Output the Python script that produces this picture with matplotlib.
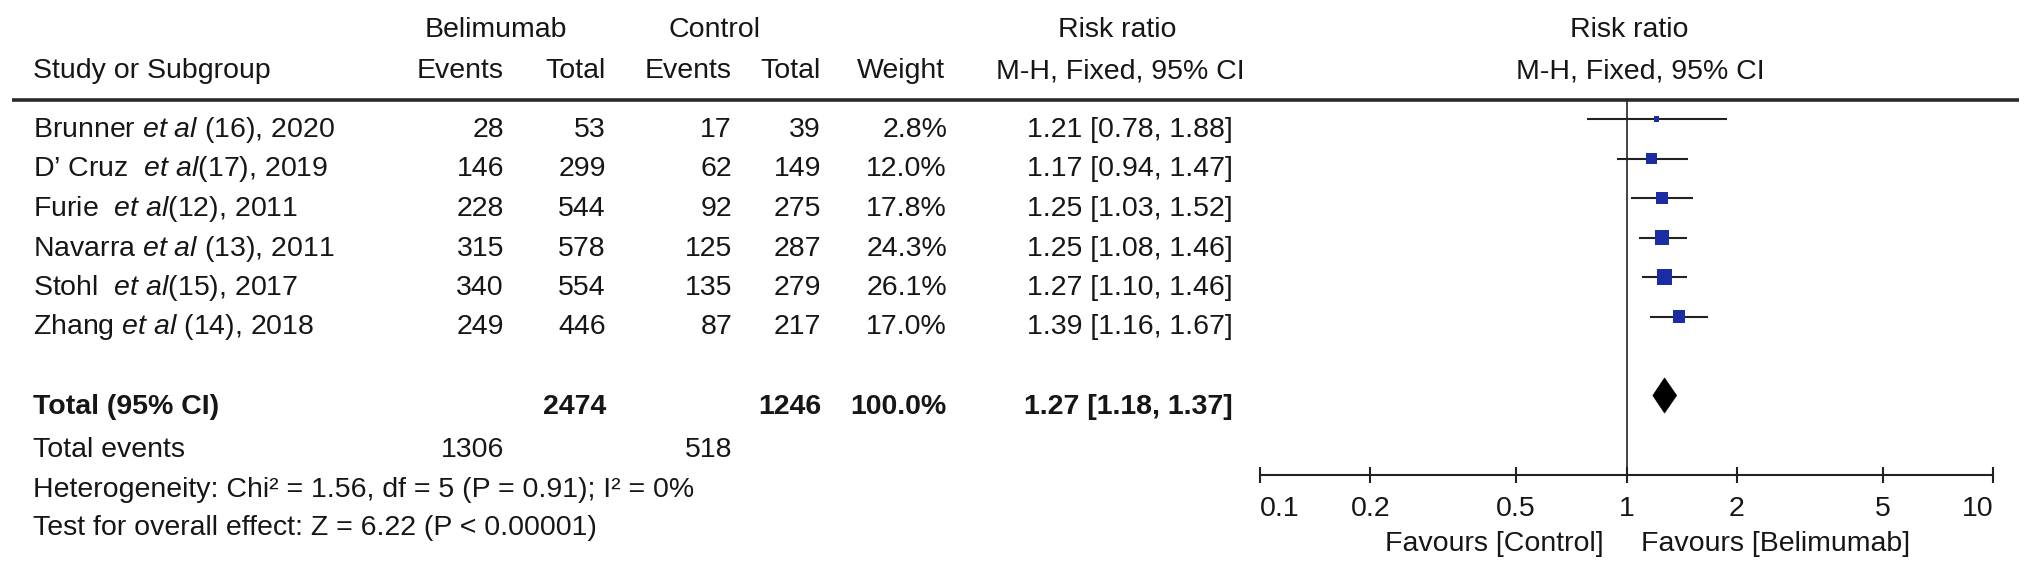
import matplotlib
matplotlib.use("Agg")
import matplotlib.pyplot as plt
import numpy as np
from matplotlib.transforms import blended_transform_factory
from matplotlib.patches import Polygon

plt.rcParams['font.family'] = ['Liberation Sans', 'DejaVu Sans']
plt.rcParams['mathtext.fontset'] = 'custom'
plt.rcParams['mathtext.rm'] = 'Liberation Sans'
plt.rcParams['mathtext.it'] = 'Liberation Sans:italic'
plt.rcParams['mathtext.bf'] = 'Liberation Sans:bold'

# ---------------- data ----------------
study_labels = [
    r"Brunner $\mathit{et\ al}$ (16), 2020",
    "D\u2019 Cruz  " + r"$\mathit{et\ al}$(17), 2019",
    r"Furie  $\mathit{et\ al}$(12), 2011",
    r"Navarra $\mathit{et\ al}$ (13), 2011",
    r"Stohl  $\mathit{et\ al}$(15), 2017",
    r"Zhang $\mathit{et\ al}$ (14), 2018",
]
bel_events = [28, 146, 228, 315, 340, 249]
bel_total = [53, 299, 544, 578, 554, 446]
ctl_events = [17, 62, 92, 125, 135, 87]
ctl_total = [39, 149, 275, 287, 279, 217]
weights = [2.8, 12.0, 17.8, 24.3, 26.1, 17.0]
rr = [1.21, 1.17, 1.25, 1.25, 1.27, 1.39]
ci_lo = [0.78, 0.94, 1.03, 1.08, 1.10, 1.16]
ci_hi = [1.88, 1.47, 1.52, 1.46, 1.46, 1.67]

total_bel = 2474
total_ctl = 1246
total_weight = 100.0
events_bel = 1306
events_ctl = 518
total_rr = 1.27
total_lo = 1.18
total_hi = 1.37

heterogeneity = "Heterogeneity: Chi\u00b2 = 1.56, df = 5 (P = 0.91); I\u00b2 = 0%"
overall = "Test for overall effect: Z = 6.22 (P < 0.00001)"

axis_ticks = [0.1, 0.2, 0.5, 1, 2, 5, 10]
axis_tick_labels = ["0.1", "0.2", "0.5", "1", "2", "5", "10"]
favours_left = "Favours [Control]"
favours_right = "Favours [Belimumab]"

# ---------------- layout ----------------
W, H = 2032, 573
DPI = 100
FS = 20.5
TXT = '#161616'
LINE = '#222222'
BLUE = '#1c2ca4'

fig = plt.figure(figsize=(W / DPI, H / DPI), dpi=DPI)
fig.patch.set_facecolor('white')

ax_t = fig.add_axes([0, 0, 1, 1])
ax_t.set_xlim(0, W)
ax_t.set_ylim(H, 0)
ax_t.axis('off')

def t(x, y, s, ha='left', bold=False, **kw):
    ax_t.text(x, y, s, ha=ha, va='baseline', fontsize=FS, color=TXT,
              fontweight='bold' if bold else 'normal', **kw)

# header
t(496, 37, "Belimumab", ha='center')
t(715, 37, "Control", ha='center')
t(1117, 37, "Risk ratio", ha='center')
t(1629, 37, "Risk ratio", ha='center')
t(33, 78, "Study or Subgroup")
t(504, 78, "Events", ha='right')
t(606, 78, "Total", ha='right')
t(732, 78, "Events", ha='right')
t(821, 78, "Total", ha='right')
t(945, 78, "Weight", ha='right')
t(1120, 78, "M-H, Fixed, 95% CI", ha='center')
t(1640, 78, "M-H, Fixed, 95% CI", ha='center')

ax_t.plot([12, 2019], [99.5, 99.5], color='#2a2a2a', lw=2.6, solid_capstyle='butt')

# study rows
row_base0 = 137
row_h = 39.5
for i in range(len(study_labels)):
    y = row_base0 + row_h * i
    t(33, y, study_labels[i])
    t(504, y, f"{bel_events[i]}", ha='right')
    t(606, y, f"{bel_total[i]}", ha='right')
    t(732, y, f"{ctl_events[i]}", ha='right')
    t(821, y, f"{ctl_total[i]}", ha='right')
    t(947, y, f"{weights[i]:.1f}%", ha='right')
    t(1233, y, f"{rr[i]:.2f} [{ci_lo[i]:.2f}, {ci_hi[i]:.2f}]", ha='right')

# totals
y_tot = row_base0 + row_h * 7
t(33, y_tot, "Total (95% CI)", bold=True)
t(606, y_tot, f"{total_bel}", ha='right', bold=True)
t(821, y_tot, f"{total_ctl}", ha='right', bold=True)
t(947, y_tot, f"{total_weight:.1f}%", ha='right', bold=True)
t(1233, y_tot, f"{total_rr:.2f} [{total_lo:.2f}, {total_hi:.2f}]", ha='right', bold=True)

t(33, 457, "Total events")
t(504, 457, f"{events_bel}", ha='right')
t(732, 457, f"{events_ctl}", ha='right')
t(33, 497, heterogeneity)
t(33, 535, overall)

# ---------------- forest axes ----------------
L, R = 1260, 1993
top_px, bot_px = 99, 475
row0_px = 119
ax_f = fig.add_axes([L / W, 1 - bot_px / H, (R - L) / W, (bot_px - top_px) / H])
ax_f.set_xscale('log')
ax_f.set_xlim(axis_ticks[0], axis_ticks[-1])
ax_f.set_ylim((bot_px - row0_px) / row_h, (top_px - row0_px) / row_h)
ax_f.patch.set_alpha(0)
for side in ['top', 'left', 'right']:
    ax_f.spines[side].set_visible(False)
ax_f.spines['bottom'].set_linewidth(1.5)
ax_f.spines['bottom'].set_color(LINE)
ax_f.set_xticks(axis_ticks)
ax_f.xaxis.set_minor_locator(matplotlib.ticker.NullLocator())
ax_f.tick_params(axis='x', direction='inout', length=11.5, width=1.5,
                 color=LINE, labelbottom=False)
ax_f.set_yticks([])

ax_f.axvline(1, color=LINE, lw=1.2, zorder=1)

rows = np.arange(len(rr))
ax_f.hlines(rows, ci_lo, ci_hi, color=LINE, lw=1.5, zorder=2)
side_pt = 3.0 * np.sqrt(np.array(weights)) * 72 / DPI
ax_f.scatter(rr, rows, marker='s', s=side_pt ** 2, color=BLUE,
             linewidths=0, zorder=3, clip_on=False)

y_d = 7
hh = 17.5 / row_h
ax_f.add_patch(Polygon([(total_lo, y_d), (total_rr, y_d - hh),
                        (total_hi, y_d), (total_rr, y_d + hh)],
                       closed=True, facecolor='black', edgecolor='black',
                       lw=0.5, zorder=3))

# tick labels & favours
blend = blended_transform_factory(ax_f.transData, ax_t.transData)
for k, (v, lab) in enumerate(zip(axis_ticks, axis_tick_labels)):
    ha = 'left' if k == 0 else ('right' if k == len(axis_ticks) - 1 else 'center')
    ax_t.text(v, 516, lab, ha=ha, va='baseline', fontsize=FS, color=TXT,
              transform=blend)

t(1604, 551, favours_left, ha='right')
t(1641, 551, favours_right, ha='left')

fig.savefig('out.png', dpi=DPI, facecolor='white')
